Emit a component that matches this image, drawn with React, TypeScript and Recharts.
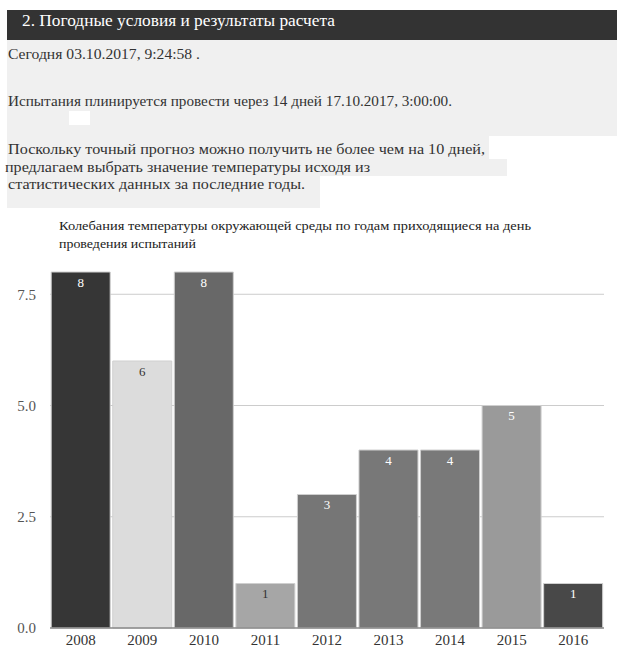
import React from 'react';
import { BarChart, Bar, XAxis, YAxis, CartesianGrid, Cell, LabelList } from 'recharts';

const years = ['2008', '2009', '2010', '2011', '2012', '2013', '2014', '2015', '2016'];
const values = [8, 6, 8, 1, 3, 4, 4, 5, 1];
const yTicks = [0, 2.5, 5, 7.5];
const gridValues = [2.5, 5, 7.5];
const barColors = ['#363636', '#dcdcdc', '#686868', '#a6a6a6', '#767676', '#787878', '#797979', '#9a9a9a', '#484848'];
const labelColors = ['#fff', '#333', '#fff', '#333', '#fff', '#fff', '#fff', '#fff', '#fff'];

const data = years.map((y, i) => ({ year: y, value: values[i], idx: i }));

const FONT = "'Liberation Serif', 'DejaVu Serif', 'Times New Roman', Times, serif";

type TextLine = { t: string; x: number; y: number; size: number; w: number; color: string };

const textLines: TextLine[] = [
  { t: '2. Погодные условия и результаты расчета', x: 22, y: 26, size: 16.5, w: 313, color: '#fff' },
  { t: 'Сегодня 03.10.2017, 9:24:58 .', x: 8, y: 59, size: 15, w: 192, color: '#333' },
  { t: 'Испытания плинируется провести через 14 дней 17.10.2017, 3:00:00.', x: 8, y: 105.5, size: 15, w: 444, color: '#333' },
  { t: 'Поскольку точный прогноз можно получить не более чем на 10 дней,', x: 8, y: 154, size: 15.5, w: 477, color: '#333' },
  { t: 'предлагаем выбрать значение температуры исходя из', x: 5, y: 171.5, size: 15.5, w: 365, color: '#333' },
  { t: 'статистических данных за последние годы.', x: 8, y: 189, size: 15.5, w: 297, color: '#333' },
  { t: 'Колебания температуры окружающей среды по годам приходящиеся на день', x: 59, y: 230, size: 13.5, w: 472, color: '#222' },
  { t: 'проведения испытаний', x: 59, y: 248, size: 13.5, w: 137, color: '#222' },
];

const renderLabel = (props: any) => {
  const { x, y, width, value, index } = props;
  return (
    <text
      x={x + width / 2}
      y={y + 10}
      textAnchor="middle"
      dominantBaseline="central"
      fontSize={13}
      style={{ fontFamily: FONT }}
      fill={labelColors[index]}
    >
      {value}
    </text>
  );
};

export default function App() {
  return (
    <div style={{ position: 'absolute', left: 0, top: 0, width: 617, height: 649, background: '#fff', fontFamily: FONT, overflow: 'hidden' }}>
      <div style={{ position: 'absolute', left: 7, top: 10, width: 610, height: 30, background: '#333' }} />
      <div style={{ position: 'absolute', left: 7, top: 40, width: 610, height: 96, background: '#f0f0f0' }} />
      <div style={{ position: 'absolute', left: 7, top: 136, width: 482, height: 23, background: '#f0f0f0' }} />
      <div style={{ position: 'absolute', left: 7, top: 159, width: 500, height: 17, background: '#f0f0f0' }} />
      <div style={{ position: 'absolute', left: 7, top: 176, width: 313, height: 32, background: '#f0f0f0' }} />
      <div style={{ position: 'absolute', left: 69, top: 111, width: 21, height: 14, background: '#fff' }} />
      <svg width={617} height={260} style={{ position: 'absolute', left: 0, top: 0 }}>
        {textLines.map((l, i) => (
          <text
            key={i}
            x={l.x}
            y={l.y}
            fontSize={l.size}
            fill={l.color}
            textLength={l.w}
            lengthAdjust="spacingAndGlyphs"
            style={{ fontFamily: FONT }}
          >
            {l.t}
          </text>
        ))}
      </svg>
      <div style={{ position: 'absolute', left: 0, top: 260 }}>
        <BarChart
          width={617}
          height={389}
          data={data}
          margin={{ top: 12, right: 13, bottom: 0, left: 0 }}
          barCategoryGap={1.2}
          style={{ fontFamily: FONT }}
        >
          <CartesianGrid vertical={false} stroke="#cccccc" horizontalValues={gridValues} />
          <XAxis
            dataKey="year"
            height={21}
            tickLine={false}
            tickSize={4}
            axisLine={{ stroke: '#888', strokeWidth: 1.5 }}
            tick={{ fontSize: 15, fill: '#333', style: { fontFamily: FONT } }}
            interval={0}
          />
          <YAxis
            width={50}
            domain={[0, 8]}
            ticks={yTicks}
            axisLine={false}
            tickLine={false}
            tickSize={8}
            tickMargin={6}
            tickFormatter={(v: number) => v.toFixed(1)}
            tick={{ fontSize: 15, fill: '#555', style: { fontFamily: FONT } }}
          />
          <Bar dataKey="value" isAnimationActive={false} stroke="#cfcfcf" strokeWidth={1}>
            {data.map((d, i) => (
              <Cell key={d.year} fill={barColors[i]} />
            ))}
            <LabelList dataKey="value" content={renderLabel} />
          </Bar>
        </BarChart>
      </div>
    </div>
  );
}
